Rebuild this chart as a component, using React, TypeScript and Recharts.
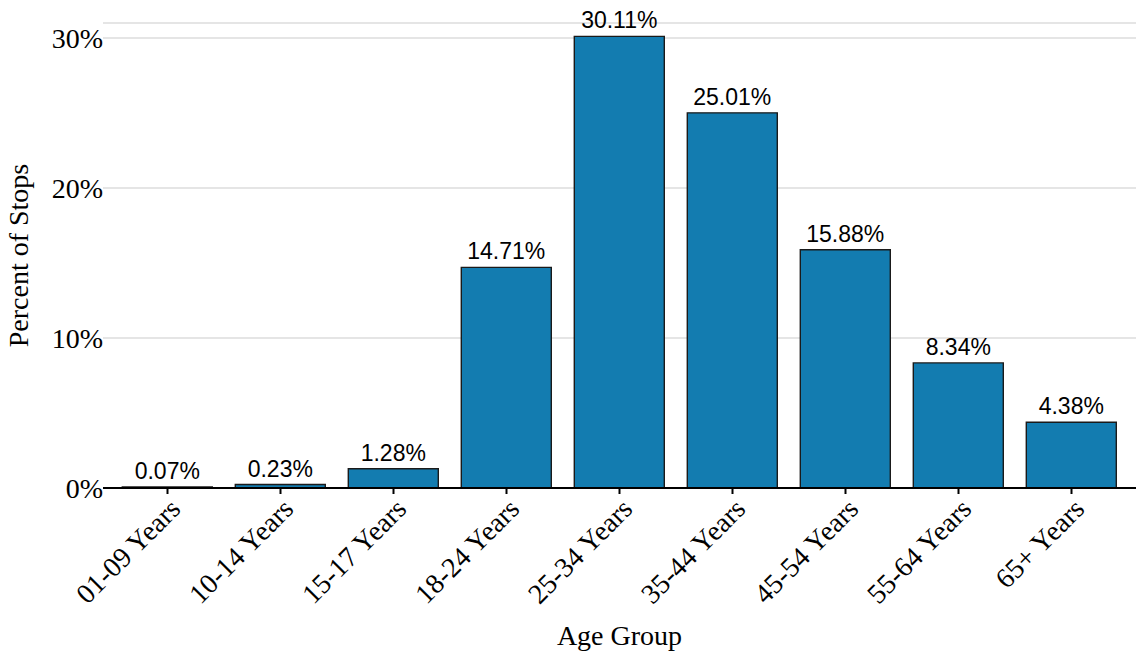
import { Bar, BarChart, CartesianGrid, LabelList, XAxis, YAxis } from "recharts";

const ageGroups = [
  "01-09 Years",
  "10-14 Years",
  "15-17 Years",
  "18-24 Years",
  "25-34 Years",
  "35-44 Years",
  "45-54 Years",
  "55-64 Years",
  "65+ Years",
];
const percentOfStops = [0.07, 0.23, 1.28, 14.71, 30.11, 25.01, 15.88, 8.34, 4.38];
const yTicks = [0, 10, 20, 30];

const data = ageGroups.map((group, i) => ({ group, pct: percentOfStops[i] }));

const serif = "'Liberation Serif', 'Times New Roman', serif";
const sans = "'Liberation Sans', Arial, sans-serif";

function AgeTick(props: any) {
  const { x, y, payload } = props;
  return (
    <g transform={`translate(${x + 10},${y + 10})`}>
      <text
        transform="rotate(-45)"
        textAnchor="end"
        dominantBaseline="middle"
        fontFamily={serif}
        fontSize={28}
        fill="#000"
      >
        {payload.value}
      </text>
    </g>
  );
}

function YTitle(props: any) {
  const { viewBox } = props;
  const cy = viewBox.y + viewBox.height / 2;
  return (
    <text
      transform={`translate(22,${cy}) rotate(-90)`}
      textAnchor="middle"
      dominantBaseline="middle"
      fontFamily={serif}
      fontSize={28}
      fill="#000"
    >
      Percent of Stops
    </text>
  );
}

export default function App() {
  return (
    <div style={{ position: "absolute", left: 0, top: 0, background: "#fff" }}>
      <BarChart
        width={1136}
        height={651}
        data={data}
        margin={{ top: 23, right: 0, left: 0, bottom: 0 }}
        barCategoryGap="10%"
      >
        <CartesianGrid horizontal vertical={false} stroke="#e5e5e5" strokeWidth={2} />
        <XAxis
          dataKey="group"
          interval={0}
          height={163}
          padding={{ left: 8, right: 8 }}
          stroke="#000"
          strokeWidth={2}
          tickSize={6}
          tick={<AgeTick />}
          label={{
            value: "Age Group",
            position: "insideBottom",
            offset: 6,
            fontFamily: serif,
            fontSize: 28,
            fill: "#000",
          }}
        />
        <YAxis
          width={103}
          domain={[0, 31]}
          ticks={yTicks}
          axisLine={false}
          tickLine={false}
          tickSize={0}
          tickMargin={0}
          tickFormatter={(v) => `${v}%`}
          tick={{ fontFamily: serif, fontSize: 28, fill: "#000" }}
          label={<YTitle />}
        />
        <Bar
          dataKey="pct"
          fill="#137cb0"
          stroke="#1a1a1a"
          strokeWidth={1.4}
          isAnimationActive={false}
        >
          <LabelList
            dataKey="pct"
            position="top"
            offset={8}
            formatter={(v: any) => `${Number(v).toFixed(2)}%`}
            fontFamily={sans}
            fontSize={23}
            fill="#000"
          />
        </Bar>
      </BarChart>
    </div>
  );
}
